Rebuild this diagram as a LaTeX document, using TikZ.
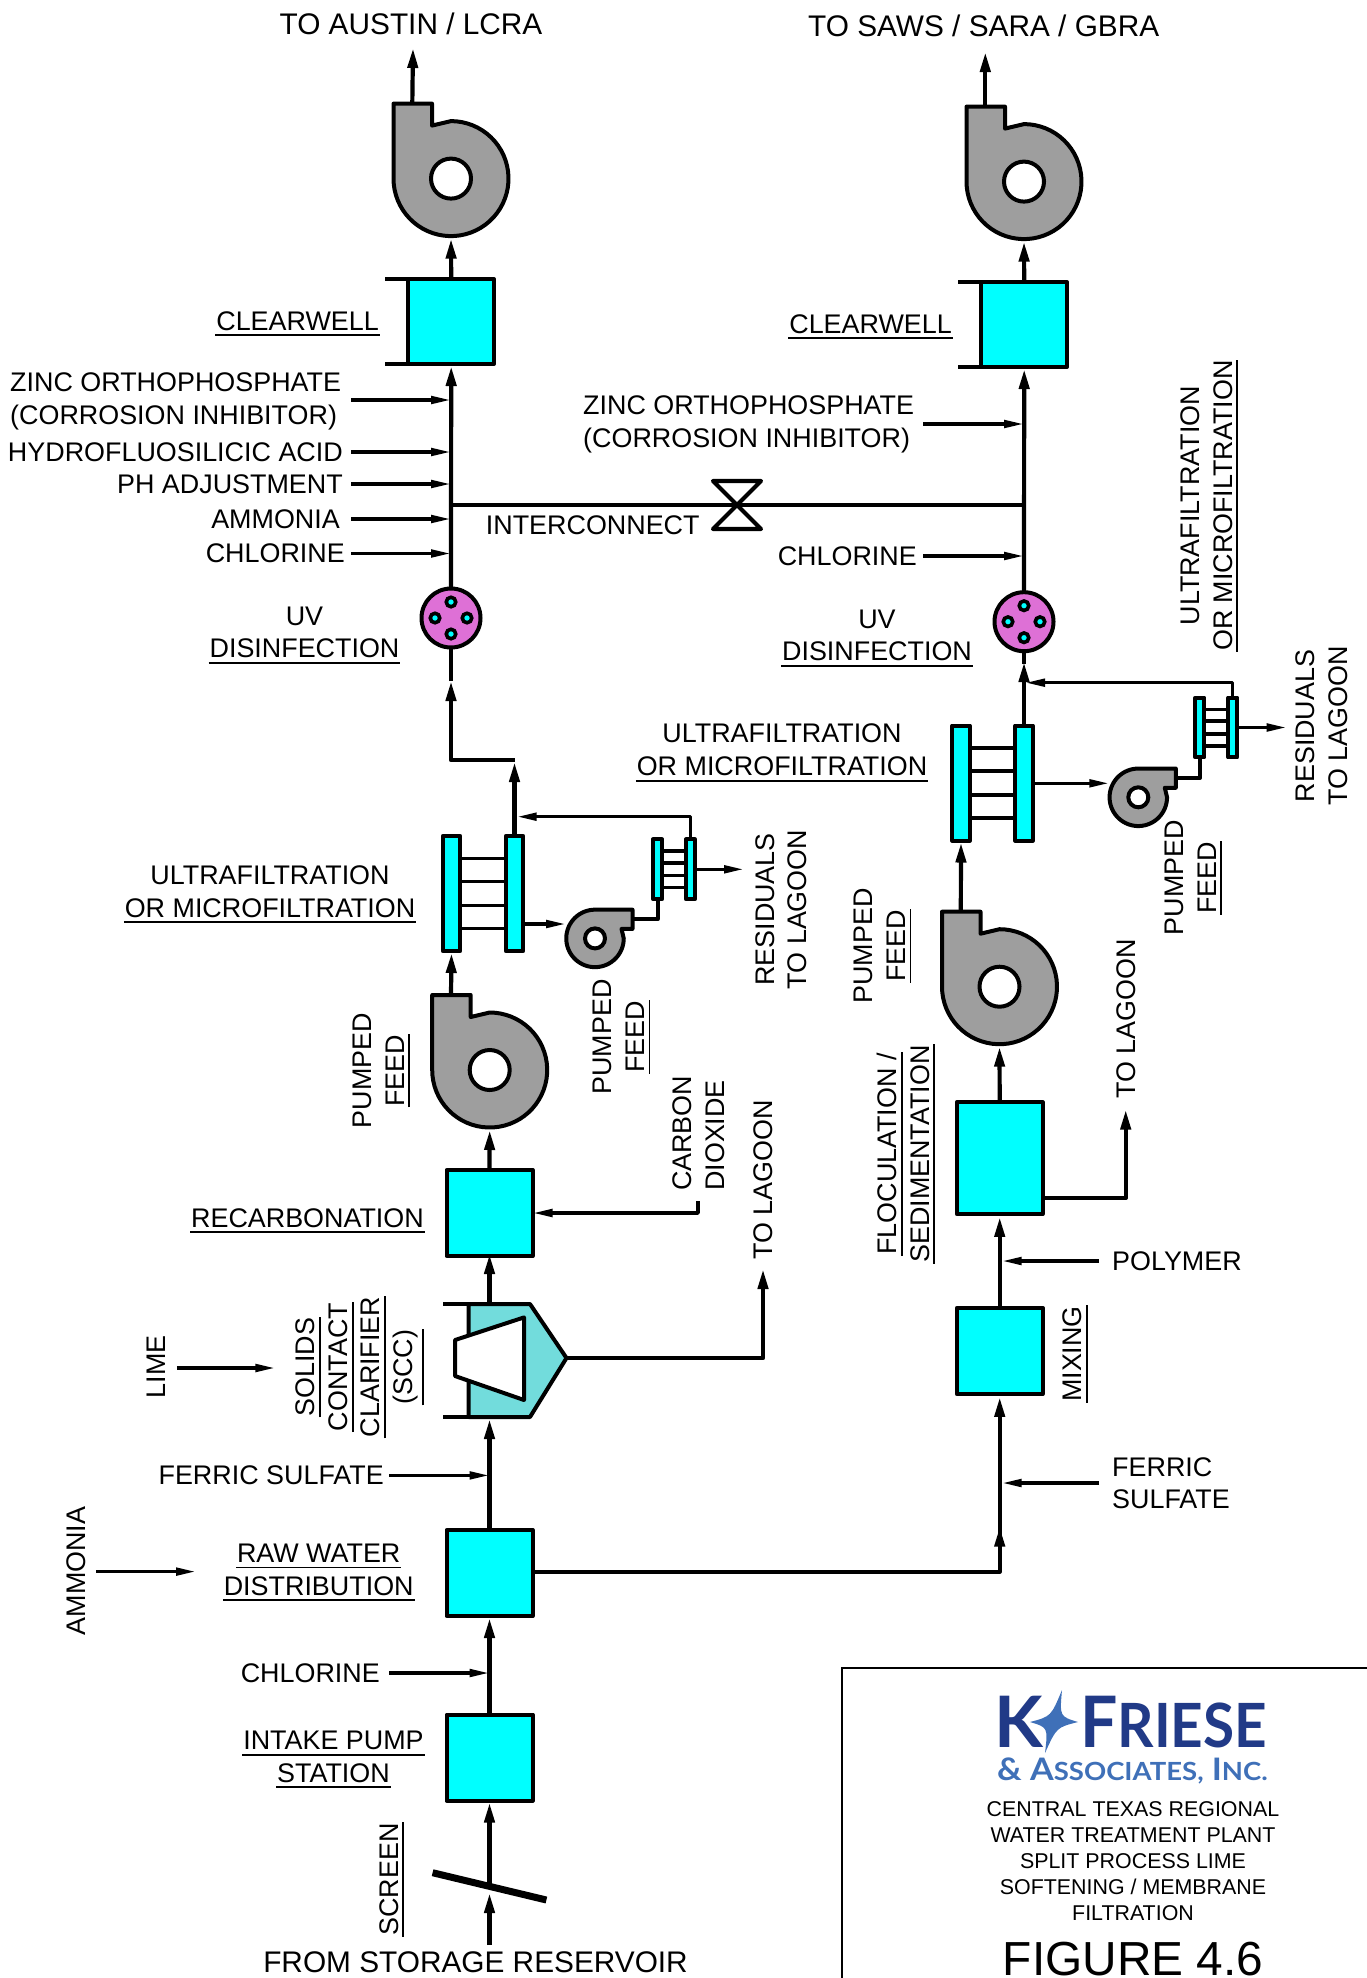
\documentclass[tikz,border=0pt]{standalone}
\usepackage{fontspec}
\setmainfont{Liberation Sans}
\newfontfamily\logofont{Lato}
\usetikzlibrary{arrows.meta,positioning,calc}
\definecolor{ctank}{RGB}{0,255,255}
\definecolor{cscc}{RGB}{114,220,220}
\definecolor{cpump}{RGB}{158,158,158}
\definecolor{cuv}{RGB}{222,112,214}
\definecolor{clogod}{RGB}{33,58,135}
\definecolor{clogol}{RGB}{63,112,184}
\newcommand{\ulbl}[1]{\vtop{\hbox{\kern1pt #1\kern1pt}\kern4.2pt\hrule height 1.8pt}}
\tikzset{
  pump/.pic={
    \draw[body, fill=cpump] (-57.5,-75) -- (-19,-75) -- (-19,-53)
      -- plot[domain=-90:180, samples=50] ({57.5*cos(\x)}, {57.5*sin(\x)}) -- cycle;
    \draw[body, fill=white] (0,0) circle[radius=20pt];
    \coordinate (-in)  at (0,58);
    \coordinate (-out) at (-38.7,-75);
  },
  membrane/.pic={
    \node[bar, transform shape] (-l) at (-31.5,0) {};
    \node[bar, transform shape] (-r) at (31.5,0)  {};
    \draw[rung] (-l.east |- 0,-35) -- (-r.west |- 0,-35);
    \draw[rung] (-l.east |- 0,-12) -- (-r.west |- 0,-12);
    \draw[rung] (-l.east |- 0,12)  -- (-r.west |- 0,12);
    \draw[rung] (-l.east |- 0,35)  -- (-r.west |- 0,35);
  }
}
\begin{document}
\begin{tikzpicture}[
    x=1pt, y=-1pt,
    body/.style={draw=black, line width=4pt, line join=round},
    tank/.style={body, fill=ctank, rectangle, inner sep=0pt, outer sep=0pt, minimum size=86pt},
    bar/.style={body, fill=ctank, rectangle, inner sep=0pt, outer sep=0pt, minimum width=17.4pt, minimum height=115pt},
    rung/.style={line width=3.6pt},
    uv/.style={body, fill=cuv, circle, inner sep=0pt, outer sep=0pt, minimum size=59pt},
    uvdot/.style={draw=black, fill=ctank, line width=3.6pt, circle, inner sep=0pt, minimum size=9.5pt},
    pipe/.style={line width=4.2pt, line join=round},
    flow/.style={pipe, -{Stealth[length=20pt, width=10pt, inset=0pt]}},
    feed/.style={line width=3.4pt, line join=round, -{Stealth[length=20pt, width=7.5pt, inset=0pt]}},
    lbl/.style={font=\fontsize{26.9}{32.6}\selectfont, inner sep=0pt, align=center},
    lbll/.style={lbl, align=left},
    big/.style={font=\fontsize{29.8}{35}\selectfont, inner sep=0pt},
    ttl/.style={font=\fontsize{21.4}{26}\selectfont, inner sep=0pt, align=center}
  ]
  \useasboundingbox (0,0) rectangle (1367,1978);

  % left train, from the reservoir upward
  \node[tank]                      (intake) at (489.5,1757.5) {};
  \node[tank, above=98.5pt of intake] (rawA) {};
  \coordinate (sccBot) at (489.5,1417);
  \coordinate (sccTop) at (489.5,1304);
  \coordinate (sccTip) at (566.5,1358);
  \draw[body, fill=cscc] (468.7,1304) -- (530,1304) -- (sccTip) -- (530,1417) -- (468.7,1417) -- cycle;
  \draw[pipe] (443,1304) -- (468.7,1304);
  \draw[pipe] (443,1417) -- (468.7,1417);
  \draw[body, fill=white] (524,1317.4) -- (524,1400) -- (455,1376) -- (455,1340) -- cycle;
  \node[tank, above=48pt of sccTop] (recarb) {};
  \pic (pumpB) at (489.7,1070) {pump};
  \pic (mfA) at (483,893.5) {membrane};
  \pic[scale=0.52] (mfC) at (674,869.3) {membrane};
  \pic[scale=0.5, rotate=-90] (pumpC) at (595,938.4) {pump};
  \node[uv] (uvA) at (451,618) {};
  \node[tank, minimum width=85.5pt, minimum height=85pt] (clearA) at (451.2,321.5) {};
  \pic (pumpA) at (451,178.6) {pump};

  % right train
  \node[tank, minimum width=86pt, minimum height=111.5pt] (floc) at (999.7,1158.2) {};
  \node[tank, below=94pt of floc] (mix) {};
  \pic (pumpD) at (999.5,986.7) {pump};
  \pic (mfB) at (992.5,783) {membrane};
  \pic[scale=0.52] (mfD) at (1216.3,727.5) {membrane};
  \pic[scale=0.5, rotate=-90] (pumpE) at (1138.3,797.3) {pump};
  \node[uv] (uvB) at (1024,621.7) {};
  \node[tank, minimum width=85.5pt, minimum height=85pt] (clearB) at (1024.2,324.5) {};
  \pic (pumpF) at (1024,181.6) {pump};

  % uv lamps
  \node[uvdot] (uvA-a) at ($(uvA)+(0,-16)$) {};
  \node[uvdot] (uvA-b) at ($(uvA)+(16,0)$)  {};
  \node[uvdot] (uvA-c) at ($(uvA)+(0,16)$)  {};
  \node[uvdot] (uvA-d) at ($(uvA)+(-16,0)$) {};
  \node[uvdot] (uvB-a) at ($(uvB)+(0,-16)$) {};
  \node[uvdot] (uvB-b) at ($(uvB)+(16,0)$)  {};
  \node[uvdot] (uvB-c) at ($(uvB)+(0,16)$)  {};
  \node[uvdot] (uvB-d) at ($(uvB)+(-16,0)$) {};

  % clearwell ticks
  \draw[pipe] (385,279) -- (clearA.north west);
  \draw[pipe] (385,364) -- (clearA.south west);
  \draw[pipe] (958,282) -- (clearB.north west);
  \draw[pipe] (958,367) -- (clearB.south west);

  % screen
  \coordinate (scr) at (489.5,1886);
  \coordinate (res) at (489.5,1945);
  \draw[line width=7pt] (432.6,1872.7) -- (546.4,1900);

  % valve
  \coordinate (ixA)   at (451,505);
  \coordinate (ixB)   at (1024,505);
  \coordinate (valve) at (737,505);
  \draw[pipe] (ixA) -- (valve) -- (ixB);
  \draw[pipe, line join=round] ($(valve)+(-24,-24)$) -- ($(valve)+(24,-24)$) -- ($(valve)+(-24,24)$) -- ($(valve)+(24,24)$) -- cycle;

  % main flow, left
  \draw[flow] (res) -- ++(0,-52);
  \draw[flow, shorten >=2pt] (scr) -- (intake.south);
  \draw[flow, shorten >=2pt] (intake.north) -- (rawA.south);
  \draw[flow, shorten >=2pt] (rawA.north) -- (sccBot);
  \draw[flow, shorten >=-2pt] (sccTop) -- (recarb.south);
  \draw[flow, shorten >=2pt] (recarb.north) -- (pumpB-in);
  \draw[flow, shorten >=2pt] (pumpB-out) -- (mfA-l.south);
  \draw[flow] (mfA-r.north) -- (514.5,762);
  \coordinate (uvAin) at (451,681);
  \draw[flow] (514.5,760) -- (451,760) -- (uvAin);
  \draw[pipe] (uvAin) -- (uvA.south);
  \draw[flow, shorten >=2pt] (uvA.north) -- (clearA.south);
  \draw[flow, shorten >=2pt] (clearA.north) -- (pumpA-in);
  \draw[flow] (pumpA-out) -- (413,48);

  % side loop, left
  \coordinate (mfAout) at (524,924);
  \coordinate (mfAret) at (516.7,816.7);
  \draw[feed] (mfAout) -- (mfAout -| pumpC-in);
  \draw[pipe] (pumpC-out) -| (mfC-l.south);
  \draw[feed] (mfC-r.north) |- (mfAret);
  \coordinate (resA) at (744,869.3);
  \draw[feed] (mfC-r.east) -- (resA);

  % scc and recarbonation branches
  \coordinate (lagA) at (763,1269);
  \draw[flow] (sccTip) -| (lagA);
  \coordinate (co2) at (698,1201);
  \draw[feed] (co2) |- (recarb.east);

  % main flow, right
  \coordinate (split) at (999.7,1571.6);
  \draw[pipe] (rawA.east |- split) -- (split) -- ++(0,-44);
  \draw[flow] (split) -- ++(0,-45);
  \draw[flow, shorten >=3pt] ($(split)+(0,-40)$) -- (mix.south);
  \draw[flow, shorten >=3pt] (mix.north) -- (floc.south);
  \draw[flow, shorten >=2pt] (floc.north) -- (pumpD-in);
  \draw[flow, shorten >=2pt] (pumpD-out) -- (mfB-l.south);
  \draw[flow] (mfB-r.north) -- (1024,662);
  \draw[pipe] (1024,664) -- (uvB.south);
  \draw[flow, shorten >=2pt] (uvB.north) -- (clearB.south);
  \draw[flow, shorten >=2pt] (clearB.north) -- (pumpF-in);
  \draw[flow] (pumpF-out) -- (985.3,52);

  % side loop, right
  \coordinate (mfBout) at (1035,783.3);
  \coordinate (mfBret) at (1025,682.7);
  \draw[feed] (mfBout) -- (mfBout -| pumpE-in);
  \draw[pipe] (pumpE-out) -| (mfD-l.south);
  \draw[feed] (mfD-r.north) |- (mfBret);
  \coordinate (resB) at (1286.7,727.5);
  \draw[feed] (mfD-r.east) -- (resB);

  % floc branch
  \coordinate (lagB) at (1125.7,1109.6);
  \draw[flow] (floc.east |- 0,1198) -| (lagB);

  % chemical feeds, left column
  \coordinate (zincA) at (351,400);
  \coordinate (hfA)   at (351,452);
  \coordinate (phA)   at (351,484);
  \coordinate (nhA)   at (351,519);
  \coordinate (clA)   at (351,553.5);
  \draw[feed] (zincA) -- (zincA -| uvA);
  \draw[feed] (hfA)   -- (hfA -| uvA);
  \draw[feed] (phA)   -- (phA -| uvA);
  \draw[feed] (nhA)   -- (nhA -| uvA);
  \draw[feed] (clA)   -- (clA -| uvA);
  \coordinate (zincB) at (923,424);
  \coordinate (clB)   at (923,556);
  \draw[feed] (zincB) -- (zincB -| uvB);
  \draw[feed] (clB)   -- (clB -| uvB);
  \coordinate (feA)  at (389,1475.4);
  \coordinate (clC)  at (389,1673);
  \coordinate (nhB)  at (96,1571.6);
  \coordinate (limeA) at (176.8,1368);
  \draw[feed] (feA)  -- (feA -| rawA);
  \draw[feed] (clC)  -- (clC -| rawA);
  \draw[feed] (nhB)  -- (196,1571.6);
  \draw[feed] (limeA) -- (275.4,1368);
  \coordinate (polyA) at (1099,1261);
  \coordinate (feB)   at (1099,1483);
  \draw[feed] (polyA) -- (1001.7,1261);
  \draw[feed] (feB)   -- (1001.7,1483);

  % labels, top
  \node[big, anchor=base] (tAustin) at (411,34)   {TO AUSTIN / LCRA};
  \node[big, anchor=base] (tSaws)   at (983.7,36.6) {TO SAWS / SARA / GBRA};
  \node[lbl, anchor=base east] (lClearA) at (380,330) {\ulbl{CLEARWELL}};
  \node[lbl, anchor=base east] (lClearB) at (953,333) {\ulbl{CLEARWELL}};

  \node[lbll, anchor=base west] (lZincA) at (10,424) {ZINC ORTHOPHOSPHATE\\(CORROSION INHIBITOR)};
  \node[lbl, left=8pt of hfA]  (lHfA) {HYDROFLUOSILICIC ACID};
  \node[lbl, left=8pt of phA]  (lPhA) {PH ADJUSTMENT};
  \node[lbl, left=11pt of nhA] (lNhA) {AMMONIA};
  \node[lbl, left=6pt of clA]  (lClA) {CHLORINE};
  \node[lbl, anchor=base west] (lInter) at (485.7,534.8) {INTERCONNECT};
  \node[lbll, anchor=base west] (lZincB) at (583,447) {ZINC ORTHOPHOSPHATE\\(CORROSION INHIBITOR)};
  \node[lbl, left=6pt of clB]  (lClB) {CHLORINE};
  \node[lbl, anchor=base] (lUvA) at (304.5,657.6) {UV\\\ulbl{DISINFECTION}};
  \node[lbl, anchor=base] (lUvB) at (877,660.6)   {UV\\\ulbl{DISINFECTION}};

  \node[lbl, anchor=base] (lUfA) at (270,917)   {ULTRAFILTRATION\\\ulbl{OR MICROFILTRATION}};
  \node[lbl, anchor=base] (lUfB) at (782,775.5) {ULTRAFILTRATION\\\ulbl{OR MICROFILTRATION}};
  \node[lbl, anchor=base, rotate=90] (lUfC) at (1232,505.7) {ULTRAFILTRATION\\\ulbl{OR MICROFILTRATION}};

  \node[lbl, anchor=base, rotate=90] (lPfA) at (404,1070.6) {PUMPED\\\ulbl{FEED}};
  \node[lbl, anchor=base, rotate=90] (lPfB) at (644.3,1037) {PUMPED\\\ulbl{FEED}};
  \node[lbl, anchor=base, rotate=90] (lPfC) at (905.4,946)  {PUMPED\\\ulbl{FEED}};
  \node[lbl, anchor=base, rotate=90] (lPfD) at (1216,877.7) {PUMPED\\\ulbl{FEED}};
  \node[lbl, anchor=base, rotate=90] (lResA) at (806.7,909.5) {RESIDUALS\\TO LAGOON};
  \node[lbl, anchor=base, rotate=90] (lResB) at (1347,726)    {RESIDUALS\\TO LAGOON};
  \node[lbll, anchor=base west, rotate=90] (lCo2) at (724,1191) {CARBON\\DIOXIDE};
  \node[lbl, anchor=base, rotate=90] (lLagA) at (772.7,1180) {TO LAGOON};
  \node[lbl, anchor=base, rotate=90] (lLagB) at (1135,1019)  {TO LAGOON};
  \node[lbl, anchor=base east] (lRecarb) at (425,1227) {\ulbl{RECARBONATION}};
  \node[lbl, anchor=base, rotate=90] (lLime) at (165.6,1367) {LIME};
  \node[lbl, anchor=base, rotate=90] (lScc)  at (412.5,1367) {\ulbl{SOLIDS}\\\ulbl{CONTACT}\\\ulbl{CLARIFIER}\\\ulbl{(SCC)}};
  \node[lbl, left=5pt of feA] (lFeA) {FERRIC SULFATE};
  \node[lbl, anchor=base] (lRaw) at (318.7,1595) {\ulbl{RAW WATER}\\\ulbl{DISTRIBUTION}};
  \node[lbl, anchor=base, rotate=90] (lNhB) at (85.7,1571) {AMMONIA};
  \node[lbl, left=9pt of clC] (lClC) {CHLORINE};
  \node[lbl, anchor=base] (lIntake) at (333.5,1782) {\ulbl{INTAKE PUMP}\\\ulbl{STATION}};
  \node[lbl, anchor=base, rotate=90] (lScreen) at (398,1879.5) {\ulbl{SCREEN}};
  \node[big, anchor=base] (lFrom) at (475.5,1972) {FROM STORAGE RESERVOIR};
  \node[lbl, anchor=base, rotate=90] (lFloc) at (929,1154) {\ulbl{FLOCULATION /}\\\ulbl{SEDIMENTATION}};
  \node[lbl, anchor=base, rotate=90] (lMix)  at (1081.7,1354) {\ulbl{MIXING}};
  \node[lbl, anchor=base west] (lPoly) at (1112,1270) {POLYMER};
  \node[lbll, anchor=base west] (lFeB) at (1112,1508.6) {FERRIC\\SULFATE};

  % title block
  \draw[line width=2pt] (1367,1668) -- (842,1668) -- (842,1978);
  \fill[clogol] (1062,1690) .. controls (1059.6,1716.4) .. (1078,1722)
    .. controls (1056.6,1727.4) .. (1045,1753)
    .. controls (1048,1727.4) .. (1030,1722)
    .. controls (1051,1716.4) .. cycle;
  \node[anchor=base west, inner sep=0pt, text=clogod, font=\logofont\bfseries\fontsize{71}{71}\selectfont] (logoK) at (994,1747) {K};
  \node[anchor=base west, inner sep=0pt, text=clogod, xscale=0.93, transform shape, font=\logofont\bfseries\fontsize{71}{71}\selectfont] (logoF) at (1080,1747) {F{\fontsize{61}{61}\selectfont RIESE}};
  \node[anchor=base west, inner sep=0pt, text=clogol, xscale=1.1, transform shape, font=\logofont\bfseries\fontsize{31}{31}\selectfont] (logoA) at (997,1780) {\&\ A{\fontsize{25}{25}\selectfont SSOCIATES,} I{\fontsize{25}{25}\selectfont NC.}};
  \node[ttl, anchor=base] (tTitle) at (1133,1920) {CENTRAL TEXAS REGIONAL\\WATER TREATMENT PLANT\\SPLIT PROCESS LIME\\SOFTENING / MEMBRANE\\FILTRATION};
  \node[anchor=base, inner sep=0pt, font=\fontsize{47.8}{48}\selectfont] (tFigure) at (1133,1975) {FIGURE 4.6};
\end{tikzpicture}
\end{document}
